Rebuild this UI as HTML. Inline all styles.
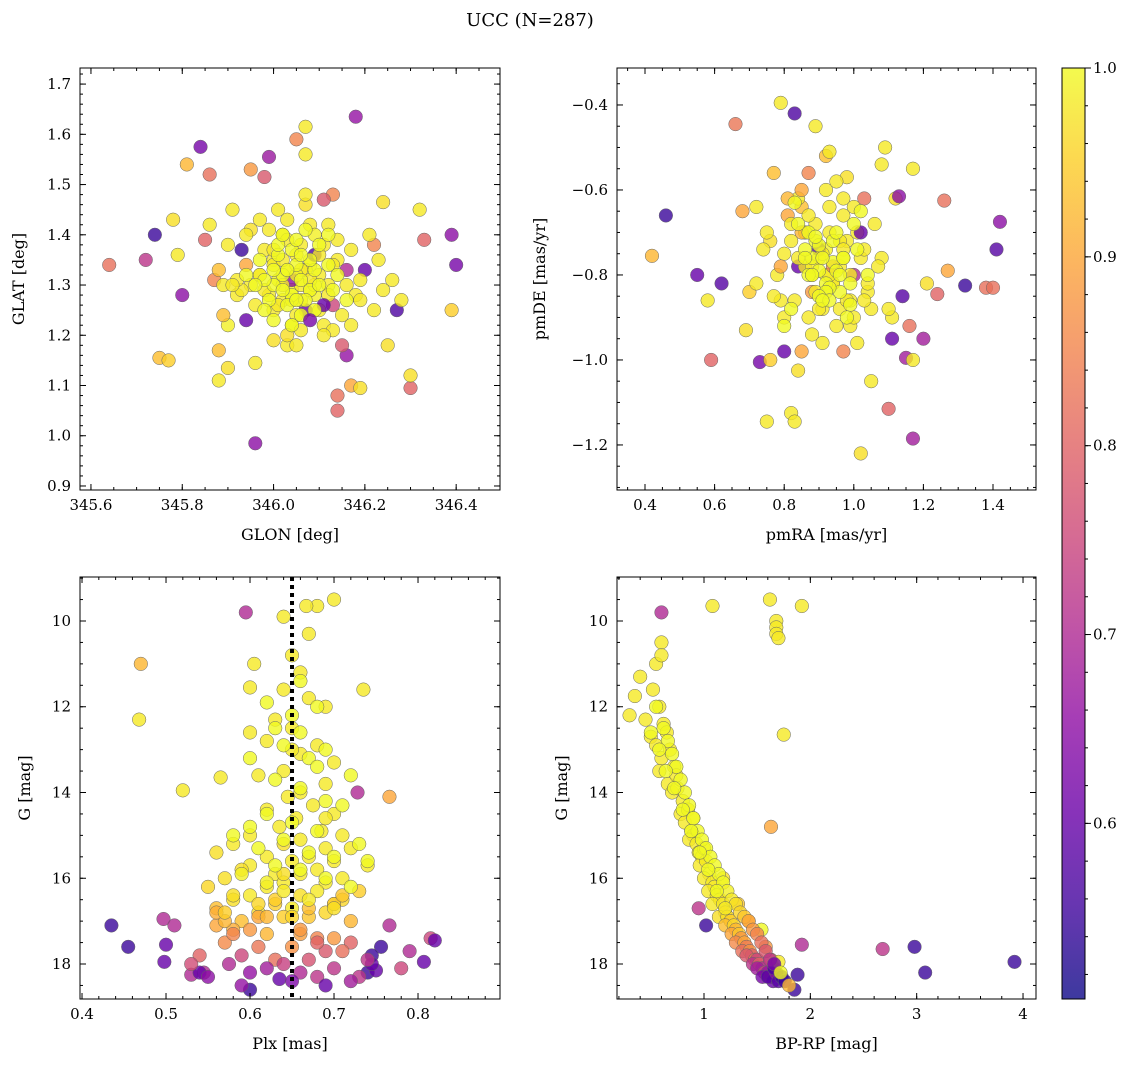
<!DOCTYPE html>
<html><head><meta charset="utf-8">
<style>
html,body{margin:0;padding:0;background:#fff;}
svg{display:block;font-family:"DejaVu Serif","Liberation Serif",serif;}
</style></head>
<body>
<svg id="fig" width="1136" height="1067" viewBox="0 0 1136 1067" xmlns="http://www.w3.org/2000/svg">
<text x="530" y="26" text-anchor="middle" font-size="18">UCC (N=287)</text>
<g id="plots"></g>
</svg>
<script>
// ---------- Panel 1: GLON vs GLAT ----------
const glonVals=[345.64,345.72,345.74,345.75,345.77,345.78,345.79,345.80,345.81,345.84,345.85,345.86,345.87,345.88,345.88,345.90,345.90,345.89,345.93,345.94,345.96,345.96,345.95,345.98,345.99,346.05,346.07,346.07,346.18,346.13,346.11,346.14,346.14,346.17,346.19,346.22,346.27,346.30,346.30,346.32,346.33,346.39,346.40,346.39,346.24,346.25,346.16,346.15,346.03,346.00,
345.95,345.97,345.99,346.0,346.01,346.02,346.03,346.04,346.05,346.06,346.07,346.08,346.09,346.10,346.11,346.12,346.13,346.02,346.04,346.06,346.08,346.0,345.98,346.03,346.05,346.07,346.09,346.11,345.96,345.94,345.92,345.90,346.14,346.16,346.18,346.20,346.22,346.01,346.03,346.05,346.07,346.09,345.99,346.12,346.15,346.17,346.19,345.93,345.88,345.91,346.21,346.24,346.0,346.06,346.10,346.04,346.08,346.02,345.97,346.13,345.86,345.89,346.23,346.26,346.28,346.11,346.03,345.95,346.17,346.06,
345.92,345.98,346.01,346.05,346.09,346.13,346.16,345.94,346.00,346.04,346.08,346.12,345.97,346.02,346.06,346.10,346.14,345.91,346.19,346.07];
const glatVals=[1.34,1.35,1.40,1.155,1.15,1.43,1.36,1.28,1.54,1.575,1.39,1.52,1.31,1.11,1.17,1.135,1.22,1.24,1.37,1.23,0.985,1.145,1.53,1.515,1.555,1.59,1.615,1.56,1.635,1.48,1.47,1.05,1.08,1.10,1.095,1.38,1.25,1.095,1.12,1.45,1.39,1.40,1.34,1.25,1.465,1.18,1.16,1.18,1.18,1.19,
1.30,1.32,1.28,1.35,1.31,1.27,1.33,1.29,1.36,1.30,1.25,1.34,1.28,1.32,1.38,1.30,1.26,1.40,1.22,1.38,1.42,1.25,1.37,1.20,1.24,1.33,1.40,1.22,1.26,1.34,1.28,1.38,1.35,1.30,1.28,1.33,1.25,1.45,1.43,1.18,1.46,1.36,1.41,1.42,1.24,1.37,1.31,1.29,1.33,1.45,1.40,1.29,1.34,1.27,1.36,1.31,1.29,1.30,1.32,1.21,1.42,1.30,1.35,1.31,1.27,1.20,1.39,1.41,1.22,1.33,
1.31,1.29,1.26,1.32,1.30,1.34,1.33,1.40,1.37,1.27,1.31,1.28,1.43,1.35,1.21,1.25,1.39,1.30,1.27,1.48];
const probP1=[0.82,0.72,0.55,0.93,0.95,0.97,0.98,0.65,0.92,0.62,0.80,0.82,0.85,0.98,0.93,0.97,0.99,0.93,0.55,0.60,0.65,0.98,0.88,0.78,0.67,0.85,0.98,0.98,0.66,0.85,0.78,0.80,0.82,0.90,0.97,0.85,0.57,0.80,0.97,0.98,0.80,0.65,0.62,0.95,0.97,0.97,0.66,0.78,0.98,0.97,
0.98,0.99,0.98,0.98,0.99,0.98,0.98,0.99,0.98,0.98,0.60,0.98,0.99,0.98,0.98,0.98,0.75,0.98,0.99,0.98,0.98,0.98,0.98,0.97,0.98,0.98,0.99,0.98,0.98,0.90,0.98,0.98,0.98,0.98,0.98,0.60,0.98,0.98,0.98,0.98,0.97,0.57,0.98,0.98,0.98,0.98,0.98,0.98,0.93,0.98,0.98,0.98,0.98,0.98,0.98,0.65,0.98,0.98,0.98,0.98,0.98,0.98,0.98,0.98,0.98,0.98,0.98,0.97,0.98,0.98,
0.98,0.98,0.98,0.99,0.98,0.98,0.70,0.98,0.98,0.99,0.98,0.98,0.98,0.98,0.98,0.98,0.98,0.98,0.98,0.98];
const glonCore=[346.00,346.02,346.04,346.06,346.08,346.05,346.03,346.07,346.01,346.09,345.98,346.10,346.04,346.06,346.02,346.08,345.99,346.11,346.05,346.03,346.12,345.97,346.07,346.00,346.13,346.01,346.09,345.96,346.14,346.06,346.04,346.10,345.94,346.16,346.02,346.08,345.98,346.12,346.0,346.05];
const glatCore=[1.30,1.32,1.28,1.31,1.29,1.34,1.26,1.27,1.36,1.33,1.31,1.30,1.37,1.24,1.29,1.35,1.27,1.26,1.39,1.33,1.34,1.35,1.41,1.23,1.29,1.38,1.25,1.30,1.32,1.36,1.22,1.38,1.32,1.27,1.40,1.23,1.25,1.40,1.33,1.27];
const probCore1=[1.0,1.0,1.0,1.0,1.0,1.0,1.0,1.0,1.0,1.0,1.0,1.0,1.0,1.0,1.0,1.0,1.0,0.6,1.0,1.0,1.0,1.0,1.0,1.0,1.0,1.0,1.0,1.0,1.0,1.0,1.0,1.0,1.0,1.0,1.0,0.62,1.0,1.0,1.0,1.0];

// ---------- Panel 2: pmRA vs pmDE ----------
const pmraVals=[0.42,0.46,0.55,0.58,0.59,0.62,0.66,0.68,0.69,0.70,0.72,0.73,0.75,0.76,0.77,0.79,0.80,0.82,0.83,0.83,0.84,0.87,0.89,0.92,0.93,0.97,0.98,1.02,1.03,1.05,1.08,1.09,1.10,1.11,1.12,1.14,1.15,1.17,1.17,1.16,1.17,1.20,1.21,1.24,1.26,1.27,1.32,1.38,1.40,1.41,1.42,1.13,1.11,0.85,
0.80,0.82,0.84,0.86,0.88,0.90,0.92,0.94,0.96,0.98,1.00,1.02,1.04,0.81,0.83,0.85,0.87,0.89,0.91,0.93,0.95,0.97,0.99,1.01,1.03,0.78,0.76,0.80,0.84,0.88,0.92,0.96,1.00,1.04,1.06,1.08,0.86,0.90,0.94,0.98,0.82,0.88,0.93,0.99,1.05,0.79,0.85,0.91,0.97,1.02,0.75,0.87,0.95,1.07,0.89,0.92,0.96,0.84,0.90,1.00,0.77,0.81,0.93,0.97,1.01,0.86,0.94,1.03,0.72,0.74,1.10,0.91,0.88,0.99];
const pmdeVals=[-0.755,-0.66,-0.80,-0.86,-1.00,-0.82,-0.445,-0.65,-0.93,-0.84,-0.64,-1.005,-1.145,-1.00,-0.56,-0.395,-0.98,-1.125,-1.145,-0.42,-1.025,-0.56,-0.45,-0.52,-0.51,-0.98,-0.57,-1.22,-0.62,-1.05,-0.54,-0.50,-1.115,-0.95,-0.62,-0.85,-0.995,-0.55,-1.185,-0.92,-1.00,-0.95,-0.82,-0.845,-0.625,-0.79,-0.825,-0.83,-0.83,-0.74,-0.675,-0.615,-0.90,-0.98,
-0.75,-0.72,-0.78,-0.70,-0.80,-0.76,-0.74,-0.82,-0.78,-0.72,-0.80,-0.76,-0.84,-0.66,-0.86,-0.64,-0.90,-0.68,-0.88,-0.70,-0.92,-0.66,-0.86,-0.70,-0.74,-0.80,-0.72,-0.90,-0.62,-0.84,-0.60,-0.88,-0.64,-0.82,-0.68,-0.76,-0.78,-0.74,-0.82,-0.86,-0.68,-0.94,-0.64,-0.92,-0.88,-0.86,-0.60,-0.96,-0.62,-0.70,-0.70,-0.66,-0.58,-0.78,-0.84,-0.80,-0.72,-0.76,-0.88,-0.90,-0.85,-0.62,-0.80,-0.74,-0.96,-0.70,-0.78,-0.86,-0.82,-0.74,-0.88,-0.75];
const probP2=[0.92,0.55,0.60,0.98,0.80,0.58,0.83,0.90,0.97,0.95,0.98,0.62,0.98,0.95,0.93,0.98,0.60,0.98,0.98,0.57,0.97,0.85,0.98,0.93,0.98,0.85,0.97,0.97,0.82,0.98,0.98,0.98,0.80,0.60,0.97,0.58,0.68,0.98,0.68,0.82,0.98,0.68,0.97,0.80,0.82,0.90,0.55,0.82,0.82,0.58,0.65,0.65,0.98,0.90,
0.98,0.98,0.60,0.98,0.98,0.98,0.99,0.98,0.98,0.98,0.70,0.98,0.98,0.90,0.98,0.93,0.98,0.98,0.98,0.98,0.98,0.98,0.98,0.98,0.98,0.98,0.97,0.98,0.98,0.88,0.98,0.98,0.98,0.98,0.98,0.98,0.98,0.58,0.98,0.98,0.98,0.98,0.98,0.98,0.98,0.98,0.90,0.98,0.98,0.60,0.98,0.98,0.98,0.98,0.98,0.98,0.98,0.98,0.98,0.98,0.98,0.92,0.98,0.98,0.98,0.98,0.85,0.98,0.98,0.98,0.98,0.98,0.98,0.98];
const pmraCore=[0.88,0.90,0.92,0.94,0.86,0.96,0.89,0.91,0.93,0.87,0.95,0.97,0.85,0.99,0.90,0.92,0.84,0.98,0.88,0.94,0.82,1.00,0.86,0.96,0.80,1.02,0.90,0.93,0.83,1.01,0.87,0.97,0.79,1.04,0.91,0.95,0.89,0.99,0.85,1.06];
const pmdeCore=[-0.78,-0.80,-0.76,-0.79,-0.82,-0.77,-0.74,-0.84,-0.72,-0.76,-0.83,-0.80,-0.79,-0.76,-0.70,-0.87,-0.73,-0.84,-0.68,-0.90,-0.80,-0.72,-0.88,-0.68,-0.76,-0.80,-0.92,-0.65,-0.85,-0.86,-0.63,-0.74,-0.70,-0.76,-0.78,-0.80,-0.86,-0.70,-0.71,-0.82];
const probCore2=[1.0,1.0,1.0,1.0,1.0,1.0,1.0,1.0,1.0,1.0,1.0,1.0,0.92,1.0,1.0,1.0,1.0,1.0,1.0,1.0,1.0,1.0,1.0,1.0,1.0,1.0,1.0,1.0,1.0,1.0,1.0,1.0,0.9,1.0,1.0,1.0,1.0,1.0,1.0,1.0];

// ---------- Panel 3: Plx vs G ----------
const plxVals=[0.470,0.468,0.595,0.640,0.680,0.700,0.667,0.670,0.520,0.565,0.600,0.605,0.735,0.728,0.766,0.435,0.455,0.500,0.498,0.497,0.510,0.530,0.545,0.540,0.600,0.635,0.790,0.807,0.815,0.820,0.780,0.766,0.756,0.740,0.750,0.730,0.745,0.745,
0.650,0.660,0.640,0.670,0.690,0.630,0.650,0.620,0.680,0.660,0.700,0.640,0.610,0.690,0.660,0.645,0.675,0.620,0.700,0.655,0.635,0.685,0.600,0.710,0.660,0.580,0.640,0.690,0.720,0.560,0.620,0.670,0.650,0.700,0.600,0.740,0.590,0.680,0.630,0.660,0.710,0.570,0.640,0.690,0.550,0.620,0.680,0.730,0.600,0.660,0.580,0.710,0.630,0.700,0.560,0.650,0.690,0.610,0.670,0.640,0.720,0.590,
0.560,0.580,0.600,0.620,0.660,0.680,0.700,0.720,0.570,0.610,0.650,0.690,0.710,0.540,0.590,0.630,0.670,0.740,0.530,0.575,0.640,0.700,0.620,0.660,0.600,0.680,0.550,0.720,0.650,0.590,0.690,0.570,0.630,0.610,0.670,0.700,0.560,0.640,0.710,0.660,0.580,0.620,0.680,0.650,0.600,0.690];
const gmagVals=[11.0,12.3,9.8,9.9,9.65,9.5,9.65,10.3,13.95,13.65,11.55,11.0,11.6,14.0,14.1,17.1,17.6,17.55,17.95,16.95,17.1,18.25,18.2,18.2,18.6,18.35,17.7,17.95,17.4,17.45,18.1,17.1,17.6,18.2,18.15,18.3,17.8,18.0,
10.8,11.2,11.6,11.8,12.0,12.3,12.5,12.8,12.9,13.1,13.3,13.5,13.6,13.8,14.0,14.1,14.3,14.4,14.5,14.6,14.8,14.9,15.0,15.0,15.1,15.2,15.2,15.3,15.3,15.4,15.5,15.5,15.6,15.6,15.7,15.7,15.8,15.8,15.9,15.9,16.0,16.0,16.1,16.1,16.2,16.2,16.3,16.3,16.4,16.4,16.5,16.5,16.6,16.6,16.7,16.7,16.8,16.8,16.9,16.9,17.0,17.0,
17.1,17.2,17.2,17.3,17.3,17.4,17.4,17.5,17.5,17.6,17.6,17.7,17.7,17.8,17.8,17.9,17.9,17.9,18.0,18.0,18.0,18.1,18.1,18.2,18.2,18.3,18.3,18.4,18.4,18.5,18.5,17.0,16.5,16.9,16.7,16.6,16.8,15.9,16.4,17.2,17.3,16.9,17.5,13.0,12.6,14.6];
const probP3=[0.92,0.98,0.70,0.98,0.98,0.98,0.98,0.98,0.98,0.98,0.98,0.98,0.98,0.70,0.90,0.55,0.55,0.60,0.60,0.70,0.70,0.70,0.70,0.60,0.55,0.60,0.70,0.60,0.75,0.60,0.75,0.70,0.55,0.55,0.60,0.72,0.55,0.60,
0.98,0.98,0.98,0.98,0.98,0.98,0.98,0.98,0.98,0.98,0.98,0.98,0.98,0.98,0.98,0.98,0.98,0.98,0.98,0.98,0.98,0.98,0.98,0.98,0.98,0.98,0.97,0.98,0.98,0.97,0.98,0.98,0.98,0.98,0.98,0.98,0.97,0.98,0.98,0.98,0.98,0.97,0.98,0.98,0.96,0.98,0.98,0.95,0.98,0.97,0.97,0.96,0.95,0.98,0.93,0.98,0.96,0.97,0.94,0.95,0.92,0.93,
0.90,0.91,0.88,0.92,0.89,0.85,0.88,0.80,0.86,0.83,0.87,0.78,0.82,0.80,0.75,0.82,0.77,0.72,0.76,0.70,0.74,0.72,0.68,0.70,0.66,0.72,0.65,0.68,0.63,0.66,0.60,0.92,0.95,0.90,0.93,0.94,0.91,0.97,0.94,0.88,0.85,0.92,0.80,0.98,0.98,0.98];
const plxCore=[0.65,0.66,0.64,0.67,0.68,0.63,0.66,0.69,0.62,0.65,0.68,0.64,0.61,0.67,0.70,0.63,0.66,0.59,0.69,0.62,0.72,0.64,0.58,0.67,0.61,0.70,0.57,0.65,0.73,0.60,0.71,0.63,0.68,0.66,0.62,0.69,0.60,0.72,0.58,0.74];
const gmagCore=[12.2,12.6,12.9,13.2,13.4,13.7,13.9,14.2,14.5,14.7,14.9,15.1,15.3,15.4,15.5,15.7,15.8,15.9,16.0,16.1,16.2,16.3,16.4,16.5,16.6,16.7,16.8,16.9,15.2,14.8,14.3,12.5,12.0,11.4,11.9,13.0,13.2,13.6,15.0,15.6];
const probCore3=[1.0,1.0,1.0,1.0,1.0,1.0,1.0,1.0,1.0,1.0,1.0,1.0,1.0,1.0,1.0,1.0,1.0,0.99,1.0,0.99,1.0,0.98,0.97,0.98,0.96,0.97,0.95,0.96,1.0,1.0,1.0,1.0,1.0,1.0,1.0,1.0,1.0,1.0,1.0,1.0];

// ---------- Panel 4: BP-RP vs G ----------
const bprpVals=[0.60,1.08,1.62,1.68,1.68,1.68,1.70,1.92,1.75,1.63,0.95,1.02,1.92,2.68,2.98,3.08,3.92,1.85,1.88,
0.30,0.35,0.40,0.45,0.55,0.60,0.60,0.52,0.58,0.62,0.50,0.55,0.65,0.60,0.68,0.72,0.58,0.66,0.70,0.75,0.80,0.78,0.85,0.82,0.88,0.90,0.86,0.93,0.95,0.98,1.00,0.96,1.02,1.05,1.00,1.08,1.10,1.04,1.12,1.15,1.08,1.18,1.20,1.14,1.22,1.25,1.20,1.28,1.30,1.26,1.33,1.35,1.30,1.38,1.40,1.36,1.43,1.45,1.40,1.48,1.50,1.46,1.52,1.55,1.50,1.57,1.60,1.55,1.62,1.65,1.60,1.68,1.70,1.66,1.73,1.76,1.80,1.58,1.63,1.70,0.90,0.74,1.18,1.32,1.42,1.54];
const gbpVals=[9.8,9.65,9.5,10.0,10.15,10.3,10.4,9.65,12.65,14.8,16.7,17.1,17.55,17.65,17.6,18.2,17.95,18.6,18.25,
12.2,11.75,11.3,12.3,11.0,10.5,10.8,11.6,12.0,12.4,12.7,12.9,12.6,13.2,13.0,13.4,13.5,13.8,14.0,13.9,14.2,14.5,14.4,14.7,14.9,15.0,15.1,15.2,15.4,15.5,15.3,15.7,15.6,15.9,16.0,16.1,16.2,16.3,16.4,16.5,16.6,16.6,16.8,16.9,16.9,17.0,17.1,17.1,17.2,17.3,17.3,17.4,17.5,17.5,17.6,17.7,17.7,17.8,17.8,17.9,17.9,18.0,18.0,18.1,18.1,18.2,18.2,18.3,18.3,18.4,18.3,18.2,18.4,18.1,18.3,18.4,18.5,17.6,17.9,17.95,14.6,13.6,16.0,16.6,17.0,17.2];
const probP4=[0.70,0.98,0.98,0.98,0.98,0.98,0.98,0.98,0.98,0.90,0.72,0.55,0.70,0.72,0.55,0.55,0.55,0.55,0.55,
0.98,0.98,0.98,0.98,0.98,0.98,0.98,0.98,0.98,0.98,0.98,0.98,0.98,0.98,0.98,0.98,0.98,0.98,0.98,0.98,0.98,0.98,0.98,0.98,0.98,0.98,0.98,0.98,0.98,0.98,0.98,0.98,0.98,0.98,0.98,0.98,0.98,0.98,0.98,0.97,0.98,0.98,0.96,0.97,0.97,0.95,0.93,0.96,0.92,0.90,0.94,0.88,0.86,0.90,0.84,0.82,0.87,0.80,0.78,0.84,0.75,0.72,0.80,0.70,0.68,0.75,0.66,0.62,0.70,0.60,0.58,0.65,0.58,0.56,0.55,0.55,0.92,0.88,0.85,0.98,0.98,0.98,0.97,0.94,0.90];
const bprpCore=[0.62,0.66,0.70,0.74,0.78,0.82,0.86,0.90,0.94,0.98,1.02,1.06,1.10,1.14,1.18,1.22,1.26,1.30,1.34,1.38,1.42,1.46,1.50,1.54,1.58,1.62,1.66,1.72,0.55,0.50,0.58,0.64,0.72,0.80,0.88,0.96,1.04,1.12,1.20,1.28];
const gbpCore=[12.5,12.8,13.1,13.4,13.7,14.0,14.3,14.6,14.9,15.1,15.3,15.5,15.7,15.9,16.1,16.3,16.5,16.6,16.8,16.9,17.0,17.2,17.3,17.5,17.7,17.9,18.0,18.2,12.0,12.6,13.0,13.5,13.9,14.4,14.9,15.4,15.8,16.3,16.7,17.0];
const probCore4=[1.0,1.0,1.0,1.0,1.0,1.0,1.0,1.0,1.0,1.0,1.0,1.0,1.0,1.0,1.0,1.0,0.99,0.98,0.97,0.96,0.94,0.9,0.88,0.85,0.82,0.78,0.72,0.62,1.0,1.0,1.0,1.0,1.0,1.0,1.0,1.0,1.0,1.0,1.0,0.98];

// ---------- colorbar ticks ----------
const cbTicks=[0.6,0.7,0.8,0.9,1.0];
const cMin=0.507, cMax=1.0;

const NS="http://www.w3.org/2000/svg";
function mk(tag,attrs,parent){const e=document.createElementNS(NS,tag);for(const k in attrs)e.setAttribute(k,attrs[k]);if(parent)parent.appendChild(e);return e;}
const plasma=[[0,13,8,135],[0.1,65,4,157],[0.2,106,0,168],[0.3,143,13,164],[0.4,177,42,144],[0.5,204,71,120],[0.6,225,100,98],[0.7,242,132,75],[0.8,252,166,54],[0.9,252,206,37],[1.0,240,249,33]];
function cmap(v){let t=(v-cMin)/(cMax-cMin);t=Math.max(0,Math.min(1,t));
 for(let i=1;i<plasma.length;i++){if(t<=plasma[i][0]){const a=plasma[i-1],b=plasma[i];const f=(t-a[0])/(b[0]-a[0]);
  return `rgb(${Math.round(a[1]+f*(b[1]-a[1]))},${Math.round(a[2]+f*(b[2]-a[2]))},${Math.round(a[3]+f*(b[3]-a[3]))})`;}}
 return 'rgb(240,249,33)';}

const root=document.getElementById('plots');
function fmt(v,d){return (v<0?'\u2212':'')+Math.abs(v).toFixed(d);}

function panel(cfg){
 const g=mk('g',{},root);
 
 
 const L=cfg.L,T=cfg.T,R=cfg.R,B=cfg.B;
 const sx=v=>L+(v-cfg.xd[0])/(cfg.xd[1]-cfg.xd[0])*(R-L);
 const sy=cfg.yinv? (v=>T+(v-cfg.yd[0])/(cfg.yd[1]-cfg.yd[0])*(B-T)) : (v=>B-(v-cfg.yd[0])/(cfg.yd[1]-cfg.yd[0])*(B-T));
 const clip='clip-'+cfg.name;
 const defs=mk('defs',{},g);const cp=mk('clipPath',{id:clip},defs);mk('rect',{x:L,y:T,width:R-L,height:B-T},cp);
 const pts=mk('g',{'clip-path':`url(#${clip})`},g);
 
 
 const n=Math.min(cfg.x.length,cfg.y.length,cfg.c.length);
 for(let i=0;i<n;i++){
  const c=mk('circle',{cx:sx(cfg.x[i]),cy:sy(cfg.y[i]),r:6.8,fill:cmap(cfg.c[i]),'fill-opacity':0.8,stroke:'#666','stroke-width':0.5},pts);
  
  
 }
 if(cfg.vline!==undefined){
  const vl=mk('line',{x1:sx(cfg.vline),x2:sx(cfg.vline),y1:T,y2:B,stroke:'#000','stroke-width':4,'stroke-dasharray':'4,4'},g);
  
  
 }
 const fr=mk('rect',{x:L,y:T,width:R-L,height:B-T,fill:'none',stroke:'#000','stroke-width':1},g);
 
 
 const tg=mk('g',{stroke:'#000','stroke-width':1},g);
 function ticksRange(d,step){const out=[];const s=Math.ceil((d[0]-1e-9)/step);for(let k=s;k*step<=d[1]+1e-9;k++)out.push(+(k*step).toFixed(6));return out;}
 ticksRange(cfg.xd,cfg.xminor).forEach(v=>{const x=sx(v);mk('line',{x1:x,x2:x,y1:B,y2:B-3},tg);mk('line',{x1:x,x2:x,y1:T,y2:T+3},tg);});
 ticksRange(cfg.yd,cfg.yminor).forEach(v=>{const y=sy(v);mk('line',{x1:L,x2:L+3,y1:y,y2:y},tg);mk('line',{x1:R,x2:R-3,y1:y,y2:y},tg);});
 ticksRange(cfg.xd,cfg.xmajor).forEach(v=>{const x=sx(v);mk('line',{x1:x,x2:x,y1:B,y2:B-6},tg);mk('line',{x1:x,x2:x,y1:T,y2:T+6},tg);
  const t=mk('text',{x:x,y:B+20,'text-anchor':'middle','font-size':15},g);t.textContent=fmt(v,cfg.xdec);
  });
 ticksRange(cfg.yd,cfg.ymajor).forEach(v=>{const y=sy(v);mk('line',{x1:L,x2:L+6,y1:y,y2:y},tg);mk('line',{x1:R,x2:R-6,y1:y,y2:y},tg);
  const t=mk('text',{x:L-9,y:y+5,'text-anchor':'end','font-size':15},g);t.textContent=fmt(v,cfg.ydec);
  });
 const xl=mk('text',{x:(L+R)/2,y:B+50,'text-anchor':'middle','font-size':16},g);xl.textContent=cfg.xlabel;
 
 const yl=mk('text',{x:0,y:0,'text-anchor':'middle','font-size':16,transform:`translate(${cfg.ylx},${(T+B)/2}) rotate(-90)`},g);yl.textContent=cfg.ylabel;
 
}

panel({name:'glon-glat-panel',L:80,T:68,R:500,B:490,xd:[345.576,346.496],yd:[0.892,1.732],x:glonVals.concat(glonCore),y:glatVals.concat(glatCore),c:probP1.concat(probCore1),xmajor:0.2,xminor:0.05,ymajor:0.1,yminor:0.02,xdec:1,ydec:1,xlabel:'GLON [deg]',ylabel:'GLAT [deg]',ylx:24});
panel({name:'pm-panel',L:617,T:68,R:1036,B:490,xd:[0.3195,1.5236],yd:[-1.306,-0.313],x:pmraVals.concat(pmraCore),y:pmdeVals.concat(pmdeCore),c:probP2.concat(probCore2),xmajor:0.2,xminor:0.05,ymajor:0.2,yminor:0.05,xdec:1,ydec:1,xlabel:'pmRA [mas/yr]',ylabel:'pmDE [mas/yr]',ylx:545});
panel({name:'plx-g-panel',L:80,T:577,R:500,B:999,xd:[0.3976,0.8976],yd:[8.974,18.816],yinv:true,x:plxVals.concat(plxCore),y:gmagVals.concat(gmagCore),c:probP3.concat(probCore3),xmajor:0.1,xminor:0.02,ymajor:2,yminor:0.5,xdec:1,ydec:0,xlabel:'Plx [mas]',ylabel:'G [mag]',ylx:30,vline:0.65});
panel({name:'cmd-panel',L:617,T:577,R:1036,B:999,xd:[0.182,4.122],yd:[8.974,18.816],yinv:true,x:bprpVals.concat(bprpCore),y:gbpVals.concat(gbpCore),c:probP4.concat(probCore4),xmajor:1,xminor:0.2,ymajor:2,yminor:0.5,xdec:0,ydec:0,xlabel:'BP-RP [mag]',ylabel:'G [mag]',ylx:567});

// colorbar
(function(){
 const L=1062,R=1085,T=68,B=999;
 const g=mk('g',{},root);
 
 
 const defs=mk('defs',{},g);const lg=mk('linearGradient',{id:'cbgrad',x1:0,y1:1,x2:0,y2:0},defs);
 plasma.forEach(s=>mk('stop',{offset:s[0],'stop-color':`rgb(${s[1]},${s[2]},${s[3]})`,'stop-opacity':0.8},lg));
 mk('rect',{x:L,y:T,width:R-L,height:B-T,fill:'url(#cbgrad)',stroke:'#000','stroke-width':1},g);
 const sy=v=>B-(v-cMin)/(cMax-cMin)*(B-T);
 for(let k=Math.ceil(cMin/0.02);k*0.02<=cMax+1e-9;k++){const y=sy(k*0.02);mk('line',{x1:R,x2:R+3,y1:y,y2:y,stroke:'#000','stroke-width':1},g);}
 cbTicks.forEach(v=>{const y=sy(v);mk('line',{x1:R,x2:R+6,y1:y,y2:y,stroke:'#000','stroke-width':1},g);
  const t=mk('text',{x:R+8,y:y+5,'font-size':15},g);t.textContent=v.toFixed(1);
  });
})();
</script>
</body></html>
